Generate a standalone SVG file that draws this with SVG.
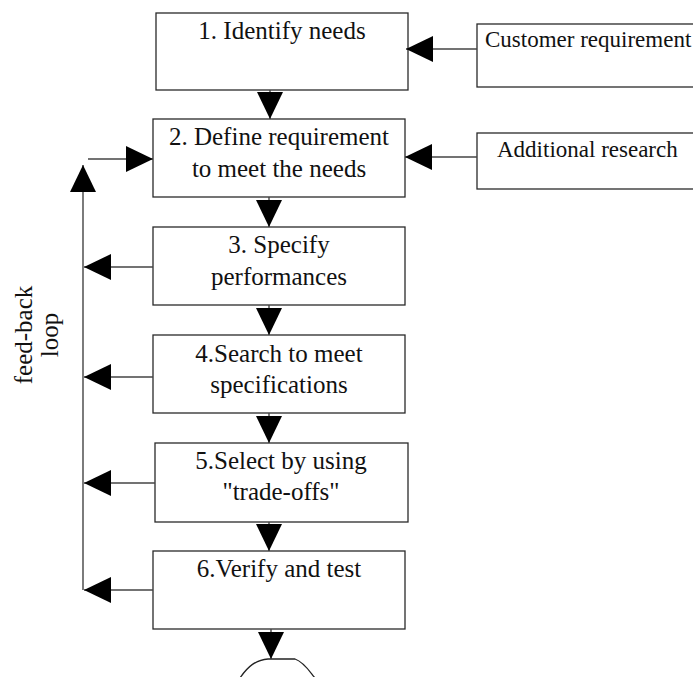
<svg xmlns="http://www.w3.org/2000/svg" width="693" height="677" viewBox="0 0 693 677" font-family="'Liberation Serif', 'Times New Roman', 'DejaVu Serif', serif">
  <defs>
    <style>
      .box { fill: #ffffff; stroke: #2a2a2a; stroke-width: 1.3; }
      text { font-family: 'Liberation Serif', 'Times New Roman', 'DejaVu Serif', serif; }
      .lbl { font-size: 25px; fill: #111111; text-anchor: middle; }
      .side { font-size: 23px; fill: #111111; }
      .conn { fill: none; stroke: #444444; stroke-width: 1.4; marker-end: url(#ah); }
      .plain { fill: none; stroke: #222222; stroke-width: 1.3; }
    </style>
    <marker id="ah" markerUnits="userSpaceOnUse" markerWidth="27" markerHeight="26" refX="27" refY="13" orient="auto" viewBox="0 0 27 26">
      <path d="M0,0 L27,13 L0,26 z" fill="#000000"/>
    </marker>
  </defs>
  <rect width="693" height="677" fill="#ffffff"/>

  <!-- process steps -->
  <g id="step1">
    <rect class="box" x="156" y="13" width="252" height="77"/>
    <text class="lbl" x="282" y="39">1. Identify needs</text>
  </g>
  <g id="step2">
    <rect class="box" x="153" y="119" width="252" height="78"/>
    <text class="lbl" x="279" y="145">2. Define requirement</text>
    <text class="lbl" x="279" y="177">to meet the needs</text>
  </g>
  <g id="step3">
    <rect class="box" x="153" y="227" width="252" height="78"/>
    <text class="lbl" x="279" y="253">3. Specify</text>
    <text class="lbl" x="279" y="285">performances</text>
  </g>
  <g id="step4">
    <rect class="box" x="153" y="335" width="252" height="78"/>
    <text class="lbl" x="279" y="362">4.Search to meet</text>
    <text class="lbl" x="279" y="393">specifications</text>
  </g>
  <g id="step5">
    <rect class="box" x="155" y="443" width="253" height="79"/>
    <text class="lbl" x="281" y="469">5.Select by using</text>
    <text class="lbl" x="281" y="500">"trade-offs"</text>
  </g>
  <g id="step6">
    <rect class="box" x="153" y="551" width="252" height="78"/>
    <text class="lbl" x="279" y="577">6.Verify and test</text>
  </g>

  <!-- inputs on the right -->
  <g id="customer">
    <rect class="box" x="477" y="24" width="230" height="63"/>
    <text class="side" x="485" y="47">Customer requirement</text>
  </g>
  <g id="research">
    <rect class="box" x="477" y="133" width="230" height="56"/>
    <text class="side" x="497" y="157">Additional research</text>
  </g>

  <!-- terminal shape below the last step -->
  <g id="end">
    <path class="plain" d="M240,678 C248,666 256,660 268,659 L295,659 C304,662 310,672 315,678"/>
  </g>

  <!-- feed-back label -->
  <g id="feedback-label">
    <text class="lbl" transform="translate(32,335) rotate(-90)" x="0" y="0">feed-back</text>
    <text class="lbl" transform="translate(58,335) rotate(-90)" x="0" y="0">loop</text>
  </g>

  <!-- connectors -->
  <g id="connectors">
    <path class="conn" d="M270,90 V119"/>
    <path class="conn" d="M269,197 V227"/>
    <path class="conn" d="M269,305 V335"/>
    <path class="conn" d="M269,413 V443"/>
    <path class="conn" d="M269,522 V551"/>
    <path class="conn" d="M271,629 V659"/>
    <path class="conn" d="M477,49 H406"/>
    <path class="conn" d="M477,157 H405"/>
    <path class="conn" d="M88,159 H153"/>
    <path class="conn" d="M83,590 V165"/>
    <path class="conn" d="M153,267 H84"/>
    <path class="conn" d="M153,377 H84"/>
    <path class="conn" d="M155,483 H84"/>
    <path class="conn" d="M153,590 H84"/>
  </g>
</svg>
